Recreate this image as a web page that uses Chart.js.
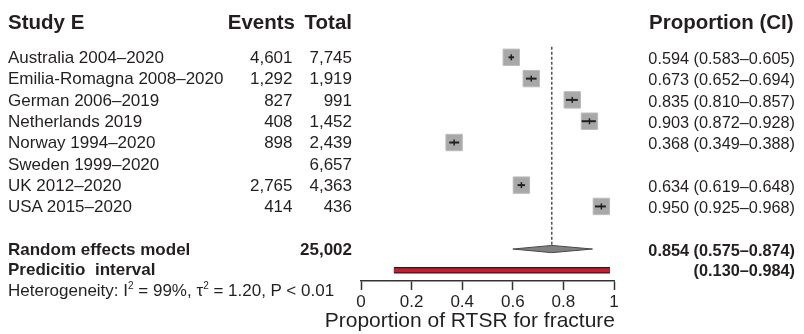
<!DOCTYPE html>
<html>
<head>
<meta charset="utf-8">
<script src="https://cdn.jsdelivr.net/npm/chart.js@4"></script>
<style>
  body { margin: 0; background: #fff; }
  #wrap { position: relative; width: 804px; height: 334px; font-family: "Liberation Sans", Arial, sans-serif; color: #231f20; }
  #plot { position: absolute; left: 0; top: 0; }
  .t { position: absolute; white-space: pre; line-height: 20px; font-size: 17px; }
  .b { font-weight: bold; }
  .h { font-weight: bold; font-size: 20.5px; line-height: 24px; }
  .p { font-size: 16.3px; }
  .ax { font-size: 21px; line-height: 24px; }
  sup { font-size: 10px; vertical-align: 7px; line-height: 0; }
</style>
</head>
<body>
<div id="wrap">
  <canvas id="plot" width="804" height="334"></canvas>
</div>
<script>
// study rows
const studies = ['Australia 2004\u20132020', 'Emilia-Romagna 2008\u20132020', 'German 2006\u20132019',
  'Netherlands 2019', 'Norway 1994\u20132020', 'Sweden 1999\u20132020', 'UK 2012\u20132020', 'USA 2015\u20132020'];
const events = ['4,601', '1,292', '827', '408', '898', '', '2,765', '414'];
const totals = ['7,745', '1,919', '991', '1,452', '2,439', '6,657', '4,363', '436'];
const propText = ['0.594 (0.583\u20130.605)', '0.673 (0.652\u20130.694)', '0.835 (0.810\u20130.857)',
  '0.903 (0.872\u20130.928)', '0.368 (0.349\u20130.388)', '', '0.634 (0.619\u20130.648)', '0.950 (0.925\u20130.968)'];
const est = [0.594, 0.673, 0.835, 0.903, 0.368, null, 0.634, 0.950];
const lower = [0.583, 0.652, 0.810, 0.872, 0.349, null, 0.619, 0.925];
const upper = [0.605, 0.694, 0.857, 0.928, 0.388, null, 0.648, 0.968];
const rows = [1, 2, 3, 4, 5, 6, 7, 8];

// pooled estimate, as drawn in the figure
const pooledRow = 10;
const pooled = { est: 0.754, lower: 0.600, upper: 0.915 };
const pooledTotal = '25,002';
const pooledText = '0.854 (0.575\u20130.874)';
const predRow = 11;
const predInterval = [0.130, 0.984];
const predText = '(0.130\u20130.984)';
const hetRow = 12;

const xTicks = [0, 0.2, 0.4, 0.6, 0.8, 1];
const xTitle = 'Proportion of RTSR for fracture';

const datasets = [];

// squares
datasets.push({
  data: rows.map((r, i) => est[i] == null ? null : { x: est[i], y: r }).filter(Boolean),
  pointStyle: 'rect', pointRadius: 11.6, pointHoverRadius: 11.6,
  backgroundColor: '#a8a8a8', borderColor: '#bcbcbc', borderWidth: 1,
  showLine: false, order: 5,
});
// confidence intervals
rows.forEach((r, i) => {
  if (est[i] == null) return;
  datasets.push({
    data: [{ x: lower[i], y: r }, { x: upper[i], y: r }],
    showLine: true, borderColor: '#231f20', borderWidth: 2, pointRadius: 0, order: 2,
  });
});
// vertical mark at estimate
datasets.push({
  data: rows.map((r, i) => est[i] == null ? null : { x: est[i], y: r }).filter(Boolean),
  pointStyle: 'line', rotation: 90, pointRadius: 3, pointHoverRadius: 3,
  borderColor: '#231f20', borderWidth: 1.5, showLine: false, order: 1,
});
// dashed line at pooled estimate
datasets.push({
  data: [{ x: pooled.est, y: 0.5 }, { x: pooled.est, y: pooledRow - 0.18 }],
  showLine: true, borderColor: '#555', borderWidth: 1.5, borderDash: [3, 2], pointRadius: 0, order: 6,
});
// diamond
datasets.push({
  data: [
    { x: pooled.lower, y: pooledRow }, { x: pooled.est, y: pooledRow - 0.17 },
    { x: pooled.upper, y: pooledRow }, { x: pooled.est, y: pooledRow + 0.17 },
    { x: pooled.lower, y: pooledRow },
  ],
  showLine: true, fill: 'shape', backgroundColor: '#808080', borderColor: '#4a4a4a',
  borderWidth: 1, pointRadius: 0, tension: 0, order: 4,
});
// prediction interval bar
datasets.push({
  data: [{ x: predInterval[0], y: predRow }, { x: predInterval[1], y: predRow }],
  showLine: true, borderColor: '#3d1518', borderWidth: 6.5, borderCapStyle: 'butt', pointRadius: 0, order: 8,
});
datasets.push({
  data: [{ x: predInterval[0], y: predRow }, { x: predInterval[1], y: predRow }],
  showLine: true, borderColor: '#c01f2e', borderWidth: 4, borderCapStyle: 'butt', pointRadius: 0, order: 7,
});

const chart = new Chart(document.getElementById('plot'), {
  type: 'scatter',
  data: { datasets },
  options: {
    responsive: false,
    animation: false,
    devicePixelRatio: 1,
    layout: { padding: { left: 361, right: 190, top: 36, bottom: 0 } },
    plugins: { legend: { display: false }, tooltip: { enabled: false } },
    scales: {
      x: {
        type: 'linear', min: 0, max: 1,
        afterBuildTicks: (scale) => { scale.ticks = xTicks.map(v => ({ value: v })); },
        afterFit: (scale) => { scale.height = 53; },
        ticks: {
          color: '#231f20', padding: 2, font: { family: 'Liberation Sans', size: 17 },
          callback: (v) => String(v),
        },
        grid: { drawOnChartArea: false, drawTicks: true, tickLength: 9, tickWidth: 1.5, tickColor: '#333' },
        border: { display: true, color: '#333', width: 1.5 },
      },
      y: { type: 'linear', reverse: true, min: 0, max: 11.5, display: false },
    },
  },
});

// table text, placed on the chart's row positions
const wrap = document.getElementById('wrap');
const yPix = (r) => chart.scales.y.getPixelForValue(r);
function addText(html, cls, y, left, right) {
  const d = document.createElement('div');
  d.className = 't ' + cls;
  d.innerHTML = html;
  if (left != null) d.style.left = left + 'px';
  if (right != null) { d.style.right = (804 - right) + 'px'; d.style.textAlign = 'right'; }
  wrap.appendChild(d);
  const h = d.offsetHeight;
  d.style.top = (y - h / 2) + 'px';
}
const headY = yPix(-0.64);
addText('Study E', 'h', headY, 8, null);
addText('Events', 'h', headY, null, 295);
addText('Total', 'h', headY, null, 352);
addText('Proportion (CI)', 'h', headY, 649, null);

rows.forEach((r, i) => {
  const y = yPix(r) + 0.8;
  addText(studies[i], '', y, 8, null);
  addText(events[i], '', y, null, 292.5);
  addText(totals[i], '', y, null, 352);
  addText(propText[i], 'p', y, null, 795);
});
addText('Random effects model', 'b', yPix(pooledRow) + 0.8, 8, null);
addText(pooledTotal, 'b', yPix(pooledRow) + 0.8, null, 352);
addText(pooledText, 'b p', yPix(pooledRow) + 0.8, null, 795);
addText('Predicitio  interval', 'b', yPix(predRow) - 0.6, 8, null);
addText(predText, 'b p', yPix(predRow) - 0.6, null, 795);
addText('Heterogeneity: I<sup>2</sup> = 99%, \u03c4<sup>2</sup> = 1.20, P &lt; 0.01', '', yPix(hetRow) - 0.3, 8, null);

// axis title, right-aligned with the end of the x axis
addText(xTitle, 'ax', chart.chartArea.bottom + 39, null, chart.chartArea.right + 1);
</script>
</body>
</html>
